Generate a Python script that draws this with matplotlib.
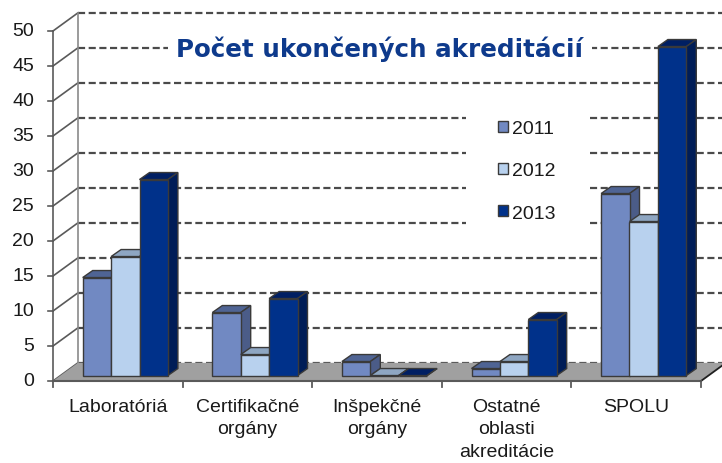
import numpy as np
import matplotlib.pyplot as plt
from matplotlib.patches import Polygon, Rectangle, Patch

categories = ["Laboratóriá", "Certifikačné\norgány", "Inšpekčné\norgány",
              "Ostatné\noblasti\nakreditácie", "SPOLU"]
years = ["2011", "2012", "2013"]
v2011 = [14, 9, 2, 1, 26]
v2012 = [17, 3, 0, 2, 22]
v2013 = [28, 11, 0, 8, 47]
yticks = np.arange(0, 51, 5)
title = "Počet ukončených akreditácií"

front = ["#7189C2", "#B8D1EE", "#00318A"]
top = ["#4F6494", "#8EA6C2", "#001F63"]
side = ["#4B5C88", "#8EA6C2", "#001D57"]

plt.rcParams['font.family'] = ['Liberation Sans', 'DejaVu Sans']
fig = plt.figure(figsize=(7.22, 4.64), dpi=100)
ax = fig.add_axes([0, 0, 1, 1])
px_x = 129.6   # pixels per category
px_y = 7.0     # pixels per unit
ax.set_xlim(-53 / px_x, (722 - 53) / px_x)
ax.set_ylim(-82 / px_y, (464 - 82) / px_y)
ax.axis("off")

# 3d depth of the floor / walls and of the bars
Dx, Dy = 25 / px_x, 18.2 / px_y
f = 0.3
bx, by = f * Dx, f * Dy
ddx, ddy = 10 / px_x, 7 / px_y
n = len(categories)
edge = "#3a3a3a"
axcol = "#5a5a5a"
txt = "#1a1a1a"

# back wall grid + side wall lines
for v in yticks:
    ax.plot([Dx, 6], [v + Dy, v + Dy], color="#4a4a4a", lw=1.6,
            ls=(0, (3.2, 1.6)), zorder=1)
    ax.plot([0, Dx], [v, v + Dy], color=axcol, lw=1.2, zorder=1)
    ax.plot([-5 / px_x, 0], [v, v], color=axcol, lw=1.2, zorder=1)
ax.plot([Dx, Dx], [Dy, 50 + Dy], color="#8a8a8a", lw=1.2, zorder=1)
ax.plot([0, 0], [0, 50], color=axcol, lw=1.2, zorder=1)
for v in yticks:
    ax.text(-19 / px_x, v, str(v), ha="right", va="center", fontsize=14,
            color=txt)

# title and legend backgrounds
ax.add_patch(Rectangle((168 / 722, 1 - 66 / 464), 424 / 722, 36 / 464,
                       transform=fig.transFigure, facecolor="white",
                       edgecolor="none", zorder=1.5))
ax.add_patch(Rectangle((466 / 722, 1 - 240 / 464), 121 / 722, 140 / 464,
                       transform=fig.transFigure, facecolor="white",
                       edgecolor="none", zorder=1.5))
ax.text(380 / 722, 1 - 49 / 464, title, transform=fig.transFigure,
        ha="center", va="center", fontsize=17.7, fontweight="bold",
        color="#0E3A8C", family="DejaVu Sans", zorder=2)

# floor
ax.add_patch(Polygon([(0, 0), (n, 0), (n + Dx, Dy), (Dx, Dy)],
                     closed=True, facecolor="#a0a0a0", edgecolor="none",
                     zorder=2))
ax.plot([0, n], [0, 0], color=axcol, lw=1.5, zorder=2.1)
ax.plot([n, n + Dx], [0, Dy], color="#202020", lw=1.3, zorder=2.1)
for i in range(n + 1):
    ax.plot([i, i], [0, -6 / px_y], color=axcol, lw=1.3, zorder=2.1)
for i, c in enumerate(categories):
    ax.text(i + 0.5, -17 / px_y, c, ha="center", va="top", fontsize=14,
            color=txt, linespacing=1.42)

# bars
w = 28.4 / px_x
z = 3
for i in range(n):
    for j, vals in enumerate([v2011, v2012, v2013]):
        xc = i + 0.5 + bx + (j - 1) * w
        v = vals[i]
        b = ax.bar(xc, v, width=w, bottom=by, color=front[j],
                   edgecolor=edge, linewidth=1.0, zorder=z + 0.2)[0]
        x0, x1 = b.get_x(), b.get_x() + b.get_width()
        yb, yt = b.get_y(), b.get_y() + b.get_height()
        ax.add_patch(Polygon([(x0, yt), (x1, yt), (x1 + ddx, yt + ddy),
                              (x0 + ddx, yt + ddy)], closed=True,
                             facecolor=top[j], edgecolor=edge, lw=1.0,
                             zorder=z))
        ax.add_patch(Polygon([(x1, yb), (x1, yt), (x1 + ddx, yt + ddy),
                              (x1 + ddx, yb + ddy)], closed=True,
                             facecolor=side[j], edgecolor=edge, lw=1.0,
                             zorder=z))
        z += 1

# legend
handles = [Patch(facecolor=front[j], edgecolor=edge, lw=1.0) for j in range(3)]
leg = fig.legend(handles, years, loc="center",
                 bbox_to_anchor=(527 / 722, 1 - 172 / 464), frameon=False,
                 fontsize=14, handlelength=0.5, handleheight=0.5,
                 handletextpad=0.2, labelspacing=1.3)
for t in leg.get_texts():
    t.set_color(txt)

fig.savefig("out.png", dpi=100)
